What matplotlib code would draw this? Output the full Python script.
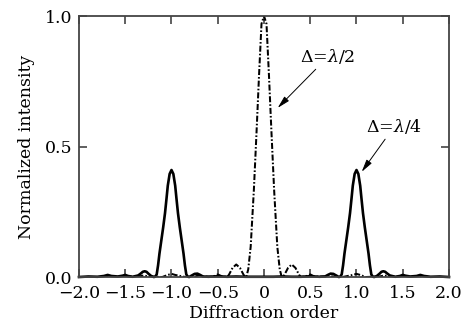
import matplotlib
matplotlib.use('Agg')
import matplotlib.pyplot as plt

# curva continua: delta = lambda/4 (picos en +-1)
x_q = [-2.0, -1.9, -1.8, -1.73, -1.69, -1.65, -1.58, -1.53, -1.5, -1.47, -1.42, -1.36,
       -1.33, -1.31, -1.29, -1.27, -1.25, -1.22, -1.19, -1.175, -1.16, -1.145, -1.13,
       -1.11, -1.09, -1.07, -1.054, -1.04, -1.02, -1.0, -0.98, -0.96, -0.946, -0.93,
       -0.91, -0.89, -0.87, -0.855, -0.84, -0.825, -0.81, -0.78, -0.75, -0.72, -0.69,
       -0.66, -0.6, -0.5, -0.4, -0.3, -0.2, -0.1, 0.0,
       0.1, 0.2, 0.3, 0.4, 0.5, 0.6, 0.66, 0.69, 0.72, 0.75, 0.78, 0.81, 0.825, 0.84,
       0.855, 0.87, 0.89, 0.91, 0.93, 0.946, 0.96, 0.98, 1.0, 1.02, 1.04, 1.054, 1.07,
       1.09, 1.11, 1.13, 1.145, 1.16, 1.175, 1.19, 1.22, 1.25, 1.27, 1.29, 1.31, 1.33,
       1.36, 1.42, 1.47, 1.5, 1.53, 1.58, 1.65, 1.69, 1.73, 1.8, 1.9, 2.0]
y_q = [0.0, 0.002, 0.001, 0.004, 0.008, 0.004, 0.002, 0.005, 0.008, 0.004, 0.001, 0.006,
       0.014, 0.02, 0.022, 0.02, 0.013, 0.004, 0.0, 0.002, 0.01, 0.045, 0.09,
       0.14, 0.19, 0.245, 0.30, 0.35, 0.395, 0.41, 0.395, 0.35, 0.30, 0.245,
       0.19, 0.14, 0.09, 0.045, 0.01, 0.002, 0.0, 0.006, 0.012, 0.013, 0.008,
       0.002, 0.001, 0.003, 0.001, 0.002, 0.001, 0.001, 0.001,
       0.001, 0.002, 0.001, 0.001, 0.003, 0.001, 0.002, 0.008, 0.013, 0.012, 0.006, 0.0,
       0.002, 0.01, 0.045, 0.09, 0.14, 0.19, 0.245, 0.30, 0.35, 0.395, 0.41, 0.395,
       0.35, 0.30, 0.245, 0.19, 0.14, 0.09, 0.045, 0.01, 0.002, 0.0, 0.004, 0.013,
       0.02, 0.022, 0.02, 0.014, 0.006, 0.001, 0.004, 0.008, 0.005, 0.002, 0.004,
       0.008, 0.004, 0.001, 0.002, 0.0]

# curva punto-raya: delta = lambda/2 (pico central)
x_h = [-2.0, -1.6, -1.35, -1.3, -1.25, -1.1, -1.04, -1.0, -0.96, -0.85, -0.74, -0.7,
       -0.66, -0.55, -0.5, -0.45, -0.4, -0.38, -0.34, -0.3, -0.26, -0.22, -0.2,
       -0.19, -0.17, -0.144, -0.11, -0.08, -0.054, -0.027, 0.0, 0.027, 0.054, 0.08,
       0.11, 0.144, 0.17, 0.19, 0.2, 0.22, 0.26, 0.3, 0.34, 0.38, 0.4, 0.45, 0.5,
       0.55, 0.66, 0.7, 0.74, 0.85, 0.96, 1.0, 1.04, 1.1, 1.25, 1.3, 1.35, 1.6, 2.0]
y_h = [0.0, 0.0, 0.002, 0.006, 0.002, 0.0, 0.008, 0.012, 0.008, 0.0, 0.002, 0.008,
       0.002, 0.001, 0.01, 0.002, 0.0, 0.008, 0.035, 0.048, 0.035, 0.008, 0.0,
       0.002, 0.03, 0.116, 0.33, 0.56, 0.77, 0.97, 1.0, 0.97, 0.77, 0.56,
       0.33, 0.116, 0.03, 0.002, 0.0, 0.008, 0.035, 0.048, 0.035, 0.008, 0.0, 0.002, 0.01,
       0.001, 0.002, 0.008, 0.002, 0.0, 0.008, 0.012, 0.008, 0.0, 0.002, 0.006, 0.002, 0.0, 0.0]

x_ticks = [-2.0, -1.5, -1.0, -0.5, 0, 0.5, 1.0, 1.5, 2.0]
x_labels = ['\u22122.0', '\u22121.5', '\u22121.0', '\u22120.5', '0', '0.5', '1.0', '1.5', '2.0']
y_ticks = [0.0, 0.5, 1.0]

plt.rcParams['font.family'] = 'DejaVu Serif'
plt.rcParams['mathtext.fontset'] = 'dejavuserif'

fig = plt.figure(figsize=(4.71, 3.24), dpi=100)
ax = fig.add_axes([0.1677, 0.145, 0.9533 - 0.1677, 0.9506 - 0.145])

ax.plot(x_h, y_h, color='black', lw=1.45, linestyle=(0, (3, 1, 0.8, 1)))
ax.plot(x_q, y_q, color='black', lw=1.9, clip_on=False)

ax.set_xlim(-2.0, 2.0)
ax.set_ylim(0.0, 1.0)
ax.set_xticks(x_ticks)
ax.set_xticklabels(x_labels)
ax.set_yticks(y_ticks)
ax.set_yticklabels(['0.0', '0.5', '1.0'])
ax.tick_params(direction='in', top=True, right=True, length=6, width=1.2,
               color='#444444', labelsize=12.5)
ax.tick_params(axis='x', pad=6)
ax.tick_params(axis='y', pad=5)
for s in ax.spines.values():
    s.set_linewidth(1.3)
    s.set_color('#444444')

ax.set_xlabel('Diffraction order', fontsize=12.5, labelpad=2)
ax.set_ylabel('Normalized intensity', fontsize=12.5, labelpad=7)

flecha = dict(arrowstyle='-|>,head_width=0.15,head_length=0.6', color='black', lw=0.7,
              shrinkA=0, shrinkB=0)
ax.annotate(r'$\Delta$=$\lambda$/2', xy=(0.148, 0.648), xytext=(0.69, 0.843),
            ha='center', va='center', fontsize=12.5, arrowprops=flecha)
ax.annotate(r'$\Delta$=$\lambda$/4', xy=(1.056, 0.403), xytext=(1.405, 0.575),
            ha='center', va='center', fontsize=12.5, arrowprops=flecha)

fig.savefig('out.png', dpi=100)
